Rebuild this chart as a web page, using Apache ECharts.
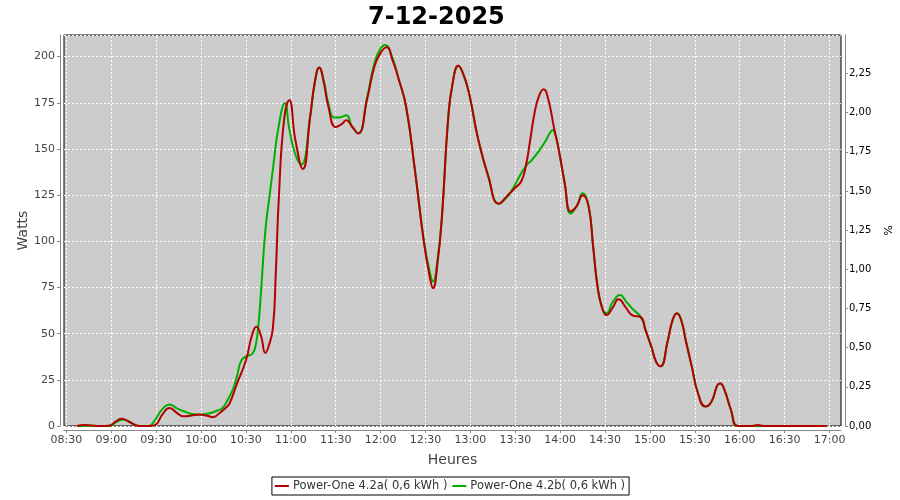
<!DOCTYPE html>
<html><head><meta charset="utf-8">
<script src="https://cdn.jsdelivr.net/npm/echarts@6/dist/echarts.min.js"></script>
<style>html,body{margin:0;padding:0;background:#fff}#c{width:900px;height:500px}</style>
</head><body><div id="c"></div>
<script>
const chartTitle = '7-12-2025';
const seriesNames = ['Power-One 4.2a( 0,6 kWh )', 'Power-One 4.2b( 0,6 kWh )'];
const leftTicks = [0, 25, 50, 75, 100, 125, 150, 175, 200];
const rightTicks = [0, 0.25, 0.5, 0.75, 1, 1.25, 1.5, 1.75, 2, 2.25];
const xTickLabels = ['08:30','09:00','09:30','10:00','10:30','11:00','11:30','12:00','12:30','13:00','13:30','14:00','14:30','15:00','15:30','16:00','16:30','17:00'];

const redTimes = ["08:37","08:42","08:47","08:52","08:59","09:03","09:07","09:12","09:16","09:19","09:26","09:30","09:34","09:39","09:44","09:48","09:53","09:59","10:04","10:08","10:12","10:16","10:19","10:24","10:30","10:34","10:37","10:40","10:43","10:45","10:48","10:50","10:52","10:55:30","10:59","11:03","11:08","11:13","11:16","11:19","11:22","11:25","11:30","11:34","11:37","11:41","11:45","11:51","11:56","12:00","12:04","12:08","12:12","12:17","12:23","12:29","12:33","12:35","12:38","12:41","12:45","12:48","12:52","12:55","12:59","13:05","13:12","13:19","13:25","13:30","13:34","13:37","13:40","13:43","13:46","13:49","13:52","13:56","13:59","14:03","14:07","14:11","14:15","14:19","14:22","14:25","14:28","14:31","14:35","14:39","14:44","14:48","14:54","14:57","15:01","15:04","15:07","15:12","15:15","15:18","15:21","15:24","15:28","15:32","15:37","15:41","15:45","15:47","15:50","15:54","15:59","16:08","16:12","16:16","16:58"];
const redValues = [0,0.6,0.3,0,0.3,2.5,3.9,2.3,0.5,0,0,1,6,9.7,7,5.3,5.6,6.2,5.5,4.8,6.8,9.5,12.2,23,35.6,49,53.7,49,39.6,42.8,53,84,124,166,176.4,155,139.2,168,186,194.1,186,173.3,161.9,163.5,165.5,162,158.4,177,195,202,205,198,188,173,138,99,80,74.6,88,113.5,165,185,195,191,180.5,156,135,120.4,125,129,132.5,140.6,155,170,179,182.3,177,161,149.7,131.6,116.2,119,124.9,118.9,97.2,75.4,64,60,64,68.6,64,60,58.8,52,42.8,35,32.3,46.5,57,61,57,46,32,18,10.6,13,22,23,19,9,0,0,0.5,0,0];

const greenTimes = ["08:38","08:45","08:52","08:59","09:03","09:08","09:13","09:17","09:20","09:25","09:29","09:34","09:39","09:44","09:50","09:54","09:59","10:03","10:07","10:11","10:14","10:17","10:21","10:24","10:27","10:31","10:34","10:36","10:38","10:40","10:43","10:46","10:48","10:52","10:56","10:59","11:03","11:07","11:13","11:16","11:19","11:22","11:25","11:29","11:33","11:37","11:41","11:45","11:51","11:56","12:00","12:03","12:08","12:12","12:17","12:23","12:29","12:33","12:35","12:38","12:41","12:45","12:48","12:52","12:55","12:59","13:05","13:12","13:19","13:24","13:28","13:32","13:37","13:41","13:45","13:50","13:53","13:55","13:57","13:59","14:03","14:07","14:11","14:15","14:19","14:22","14:25","14:28","14:31","14:35","14:40","14:44","14:48","14:54","14:57","15:01","15:04","15:07","15:12","15:15","15:18","15:21","15:24","15:28","15:32","15:37","15:41","15:45","15:47","15:50","15:54","15:59","16:58"];
const greenValues = [0,0.2,0,0,2,3.4,1.8,0.3,0,0,3,9,11.7,9.5,7.5,6.5,6.1,6.5,7.2,8.4,9.5,13,19.3,27,35.6,38,38.9,42,52,72,106,126,139,163,174.7,160.6,147,141.6,168,186,194.1,187,175,167,167.2,168.2,162,158.5,178,197,204.5,206.3,199,188,173,138,100,83,78.2,90,114,165,185,195,191,180.5,156,135,120.4,123.5,128,134,140.6,144,148,154,158.5,160.2,157,149.7,131.6,115,119,126,119,97.2,75.4,64,61,67,70.9,67.5,63.7,58.8,52,42.8,35,32.3,46.5,57,61,57,46,32,18,10.6,13,22,23,19,9,0,0];

function toMin(s){
  const p = s.split(':').map(Number);
  return p[0] * 60 + p[1] + (p[2] || 0) / 60;
}
function fmtMin(v){
  const m = Math.round(v);
  return String(Math.floor(m / 60)).padStart(2,'0') + ':' + String(m % 60).padStart(2,'0');
}
function pairs(times, vals){ return times.map((t,i)=>[toMin(t), vals[i]]); }
const xTickValues = xTickLabels.map(toMin);

const FONT = 'DejaVu Sans';
const chart = echarts.init(document.getElementById('c'), null, {renderer:'canvas'});
chart.setOption({
  backgroundColor: '#ffffff',
  animation: false,
  title: {
    text: chartTitle, left: 363, top: 1,
    textStyle: {fontFamily: FONT, fontSize: 24, fontWeight: 'bold', color: '#000'}
  },
  legend: {
    data: [seriesNames[0], seriesNames[1]],
    left: 'center', top: 477,
    padding: [3, 4, 3, 3],
    borderColor: '#000', borderWidth: 1,
    itemGap: 5, itemWidth: 14, itemHeight: 2, icon: 'rect',
    textStyle: {fontFamily: FONT, fontSize: 11.5, color: '#333', padding: [0,0,0,-1]}
  },
  grid: {
    left: 64, right: 57, top: 35, bottom: 74,
    show: true, backgroundColor: '#cccccc', borderColor: '#000', borderWidth: 1,
    containLabel: false
  },
  xAxis: {
    type: 'value',
    min: toMin('08:28:24'), max: toMin('17:07:40'),
    offset: 4,
    name: 'Heures', nameLocation: 'middle', nameGap: 23, nameMoveOverlap: false,
    nameTextStyle: {fontFamily: FONT, fontSize: 14, color: '#444'},
    axisLine: {show: true, onZero: false, lineStyle: {color: '#888'}},
    axisTick: {show: true, length: 3, customValues: xTickValues, lineStyle: {color: '#888'}},
    axisLabel: {
      fontFamily: FONT, fontSize: 11, color: '#444', margin: 5,
      customValues: xTickValues, hideOverlap: false,
      formatter: v => fmtMin(v)
    },
    splitLine: {show: false}
  },
  yAxis: [{
    type: 'value', min: leftTicks[0], max: 211.7, interval: 25,
    offset: 4,
    name: 'Watts', nameLocation: 'middle', nameGap: 30, nameMoveOverlap: false,
    nameTextStyle: {fontFamily: FONT, fontSize: 14, color: '#444'},
    axisLine: {show: true, lineStyle: {color: '#888'}},
    axisTick: {show: true, length: 3, lineStyle: {color: '#888'}},
    axisLabel: {fontFamily: FONT, fontSize: 11, color: '#444', margin: 5, showMaxLabel: false,
      formatter: v => leftTicks.indexOf(v) >= 0 ? String(v) : ''},
    splitLine: {show: true, lineStyle: {color: '#ffffff', type: [2,2], width: 1}}
  }, {
    type: 'value', min: rightTicks[0], max: 2.495, interval: 0.25,
    offset: 4, position: 'right',
    name: '%', nameLocation: 'middle', nameGap: 36, nameRotate: -90, nameMoveOverlap: false,
    nameTextStyle: {fontFamily: FONT, fontSize: 11, color: '#000'},
    axisLine: {show: true, lineStyle: {color: '#888'}},
    axisTick: {show: true, length: 3, lineStyle: {color: '#888'}},
    axisLabel: {fontFamily: FONT, fontSize: 10, color: '#000', margin: 4, showMaxLabel: false,
      formatter: v => rightTicks.some(t => Math.abs(t - v) < 1e-6) ? v.toFixed(2).replace('.', ',') : ''},
    splitLine: {show: false}
  }],
  series: [{
    name: 'grid-x', type: 'line', data: [], z: 1, silent: true,
    markLine: {
      silent: true, symbol: 'none', z: 1, animation: false,
      label: {show: false}, emphasis: {disabled: true},
      lineStyle: {color: '#ffffff', type: [2,2], width: 1, opacity: 1},
      data: xTickValues.map(v => ({xAxis: v}))
    }
  }, {
    name: seriesNames[1], type: 'line', yAxisIndex: 0, z: 3,
    data: pairs(greenTimes, greenValues),
    smooth: 0.5, showSymbol: false, symbol: 'none',
    lineStyle: {color: '#00b000', width: 2}, itemStyle: {color: '#00b000'}
  }, {
    name: seriesNames[0], type: 'line', yAxisIndex: 0, z: 4,
    data: pairs(redTimes, redValues),
    smooth: 0.5, showSymbol: false, symbol: 'none',
    lineStyle: {color: '#b40000', width: 2}, itemStyle: {color: '#b40000'}
  }]
});
</script></body></html>
